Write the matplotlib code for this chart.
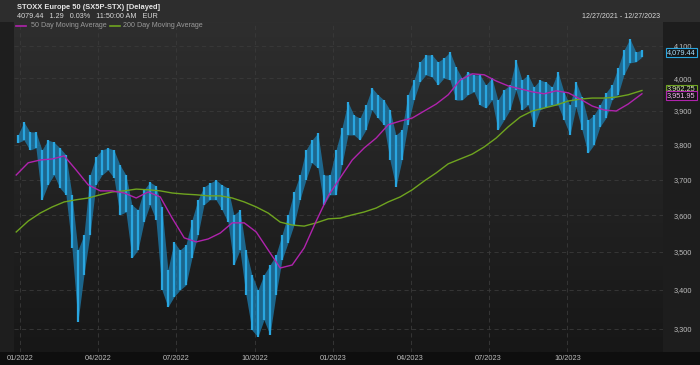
import numpy as np
import pandas as pd
import matplotlib
matplotlib.use("Agg")
import matplotlib.pyplot as plt
import matplotlib.dates as mdates
from matplotlib.patches import Rectangle
from matplotlib.ticker import FixedLocator, FuncFormatter, NullLocator

# ---------------- data (weekly high / low) ----------------
week_start = "2021-12-27"
week_high = [3829, 3867, 3838, 3838, 3785, 3814, 3808, 3791, 3771, 3657,
             3505, 3546, 3713, 3765, 3785, 3791, 3785, 3742, 3713, 3629,
             3615, 3671, 3693, 3682, 3623, 3452, 3527, 3505, 3519, 3587,
             3643, 3679, 3690, 3699, 3685, 3676, 3601, 3615, 3505, 3439,
             3399, 3439, 3465, 3492, 3546, 3601, 3665, 3713, 3785, 3814,
             3835, 3713, 3713, 3785, 3850, 3927, 3888, 3879, 3918, 3970,
             3949, 3933, 3903, 3829, 3844, 3949, 3994, 4050, 4072, 4072,
             4050, 4062, 4081, 4034, 4000, 4019, 4010, 4010, 3979, 4000,
             3933, 3964, 3979, 4056, 3994, 4010, 3973, 3994, 3988, 3973,
             4019, 3958, 3918, 3988, 3942, 3873, 3888, 3918, 3955, 3979,
             4031, 4087, 4122, 4081, 4087]
week_low = [3806, 3814, 3785, 3791, 3643, 3685, 3713, 3676, 3657, 3511,
            3317, 3439, 3546, 3685, 3713, 3727, 3705, 3601, 3609, 3484,
            3505, 3581, 3629, 3587, 3399, 3355, 3381, 3399, 3412, 3484,
            3546, 3629, 3643, 3643, 3615, 3581, 3465, 3505, 3386, 3296,
            3279, 3322, 3284, 3386, 3478, 3524, 3573, 3643, 3699, 3748,
            3733, 3629, 3657, 3657, 3742, 3829, 3829, 3814, 3844, 3903,
            3879, 3859, 3756, 3679, 3756, 3859, 3933, 3988, 4010, 4003,
            3979, 4000, 3994, 3933, 3933, 3949, 3958, 3918, 3909, 3933,
            3844, 3873, 3903, 3964, 3903, 3918, 3853, 3903, 3912, 3918,
            3918, 3873, 3829, 3912, 3844, 3776, 3800, 3853, 3879, 3933,
            3949, 4010, 4047, 4050, 4065]

# moving averages sampled every two weeks
ma50 = [3713, 3748, 3756, 3759, 3768, 3727, 3685, 3668, 3668, 3662,
        3648, 3665, 3651, 3592, 3538, 3527, 3535, 3551, 3579, 3579,
        3554, 3505, 3457, 3465, 3511, 3584, 3654, 3705, 3756, 3791,
        3820, 3859, 3870, 3879, 3900, 3921, 3949, 3994, 4013, 4010,
        3991, 3976, 3967, 3958, 3952, 3961, 3955, 3936, 3915, 3903,
        3900, 3921, 3952]
ma200 = [3554, 3584, 3606, 3623, 3637, 3643, 3648, 3657, 3665, 3668,
         3673, 3671, 3668, 3662, 3659, 3657, 3654, 3654, 3648, 3637,
         3623, 3606, 3581, 3573, 3570, 3579, 3590, 3592, 3601, 3609,
         3620, 3637, 3651, 3671, 3696, 3719, 3745, 3759, 3773, 3794,
         3820, 3853, 3882, 3900, 3909, 3918, 3930, 3936, 3939, 3939,
         3942, 3949, 3962]

last_price = 4079.44
last_ma200 = 3962.25
last_ma50 = 3951.95
y_ticks = [3300, 3400, 3500, 3600, 3700, 3800, 3900, 4000, 4100]
x_ticks = ["2022-01-01", "2022-04-01", "2022-07-01", "2022-10-01",
           "2023-01-01", "2023-04-01", "2023-07-01", "2023-10-01"]

title = "STOXX Europe 50 (SX5P-STX) [Delayed]"
quote = "4079.44   1.29   0.03%   11:50:00 AM   EUR"
date_range = "12/27/2021 - 12/27/2023"

# ---------------- styling ----------------
plt.rcParams["font.family"] = ["Liberation Sans", "DejaVu Sans"]
BLUE = "#29a6e0"
MAG = "#b023ad"
GRN = "#6fa41f"
TXT = "#bdbdbd"

W, H = 700, 365
fig = plt.figure(figsize=(7, 3.65), dpi=100, facecolor="#2d2d2d")

# plot area in pixels
L, R, T, B = 14, 663, 22, 352
ax = fig.add_axes([L / W, 1 - B / H, (R - L) / W, (B - T) / H])
ax.set_facecolor("#262626")
for s in ax.spines.values():
    s.set_visible(False)

# background panels (behind the axes)
for rect in [((R / W, 0), 1 - R / W, 1 - T / H, "#1d1d1d"),
             ((0, 0), 1, 1 - B / H, "#0e0e0e"),
             ((0, 1 - B / H), L / W, (B - T) / H, "#1e1e1e")]:
    fig.patches.append(Rectangle(rect[0], rect[1], rect[2], transform=fig.transFigure,
                                 facecolor=rect[3], edgecolor="none", zorder=-5))

# gradient in the plot area
grad = np.linspace(1, 0, 256).reshape(-1, 1)
ax.imshow(grad, extent=[0, 1, 0, 1], transform=ax.transAxes, aspect="auto",
          cmap=matplotlib.colors.LinearSegmentedColormap.from_list("g", ["#171717", "#2e2e2e"]),
          zorder=0)

wdates = pd.date_range(week_start, periods=len(week_high), freq="7D") + pd.Timedelta(days=2)
ma_dates = list(pd.date_range(week_start, periods=len(ma50) - 1, freq="14D")) + [pd.Timestamp("2023-12-27")]

ax.set_yscale("log")
ax.set_ylim(3241, 4176)
ax.set_xlim(pd.Timestamp("2021-12-24 10:00"), pd.Timestamp("2024-01-20 14:00"))

# grid
for v in y_ticks:
    ax.axhline(v, color="#3a3a3a", lw=0.6, ls=(0, (5, 4)), zorder=1)
for d in x_ticks:
    ax.axvline(pd.Timestamp(d), color="#3a3a3a", lw=0.6, ls=(0, (5, 4)), zorder=1)

# price bars
ax.fill_between(wdates, week_low, week_high, color="#1c7fb2", alpha=0.75, lw=0, zorder=3)
ax.vlines(wdates, week_low, week_high, color=BLUE, lw=1.6, zorder=4)

# moving averages
ax.plot(ma_dates, ma200, color=GRN, lw=1.0, zorder=5)
ax.plot(ma_dates, ma50, color=MAG, lw=1.0, zorder=5)

# ticks
ax.yaxis.tick_right()
ax.yaxis.set_major_locator(FixedLocator(y_ticks))
ax.yaxis.set_minor_locator(NullLocator())
ax.yaxis.set_major_formatter(FuncFormatter(lambda v, p: f"{v:,.0f}"))
ax.tick_params(axis="y", which="both", length=0, pad=8, labelsize=5.3, labelcolor=TXT)
ax.xaxis.set_major_locator(FixedLocator([mdates.date2num(pd.Timestamp(d)) for d in x_ticks]))
ax.xaxis.set_major_formatter(mdates.DateFormatter("%m/%Y"))
ax.tick_params(axis="x", length=0, pad=2.5, labelsize=5.3, labelcolor=TXT)

# last-value boxes
def box(v, ec, tc, dy=0):
    ax.annotate(f"{v:,.2f}", xy=(1.0, v), xycoords=("axes fraction", "data"),
                xytext=(3.0, dy), textcoords="offset points", ha="left", va="center",
                fontsize=5.3, color=tc, zorder=10, annotation_clip=False,
                bbox=dict(boxstyle="square,pad=0.12", fc="#141414", ec=ec, lw=0.8))

box(last_price, BLUE, "#a8e0ff")
box(last_ma200, GRN, "#d8f0b0", dy=1.0)
box(last_ma50, MAG, "#f2b8f0", dy=-1.0)

# header
fig.text(17 / W, 1 - 7.5 / H, title, fontsize=5.4, fontweight="bold", color="#e6e6e6",
         va="center", ha="left")
fig.text(17 / W, 1 - 16 / H, quote, fontsize=5.2, color="#d8d8d8", va="center", ha="left")
fig.text(660 / W, 1 - 16 / H, date_range, fontsize=5.1, color="#d8d8d8", va="center", ha="right")
ly = 1 - 25.5 / H
fig.add_artist(plt.Line2D([16 / W, 26 / W], [ly, ly], color=MAG, lw=1.2, transform=fig.transFigure))
fig.text(31 / W, ly, "50 Day Moving Average", fontsize=5.1, color="#9a9a9a", va="center", ha="left")
fig.add_artist(plt.Line2D([110 / W, 120 / W], [ly, ly], color=GRN, lw=1.2, transform=fig.transFigure))
fig.text(123 / W, ly, "200 Day Moving Average", fontsize=5.1, color="#9a9a9a", va="center", ha="left")

fig.savefig("out.png", dpi=100, facecolor=fig.get_facecolor())
